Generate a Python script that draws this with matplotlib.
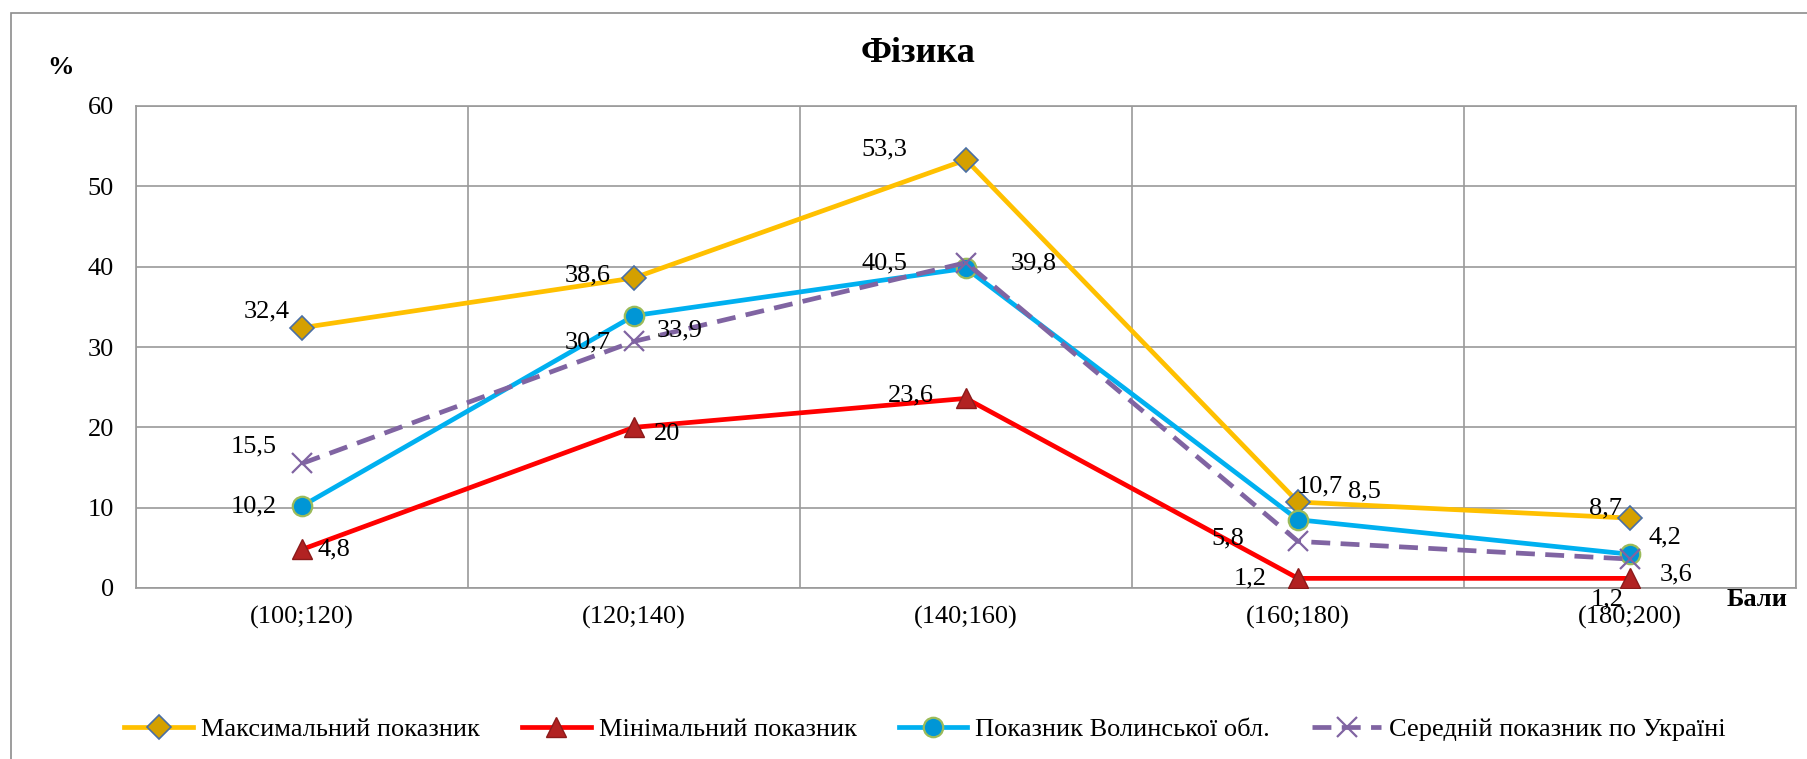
import matplotlib
matplotlib.use("Agg")
import matplotlib.pyplot as plt
from matplotlib.patches import Rectangle

plt.rcParams['font.family'] = ['Liberation Serif', 'DejaVu Serif']

categories = ["(100;120)", "(120;140)", "(140;160)", "(160;180)", "(180;200)"]
max_vals = [32.4, 38.6, 53.3, 10.7, 8.7]
min_vals = [4.8, 20, 23.6, 1.2, 1.2]
volyn_vals = [10.2, 33.9, 39.8, 8.5, 4.2]
ukraine_vals = [15.5, 30.7, 40.5, 5.8, 3.6]
series_names = ["Максимальний показник", "Мінімальний показник",
                "Показник Волинської обл.", "Середній показник по Україні"]
title = "Фізика"

fig = plt.figure(figsize=(18.07, 7.59), dpi=100)
W, H = 1807, 759
ax = fig.add_axes([136 / W, 1 - 588 / H, (1796 - 136) / W, (588 - 106) / H])

# outer chart border
fig.patches.append(Rectangle((11 / W, -0.01), 1.0, 1 - 13 / H + 0.01, transform=fig.transFigure,
                             fill=False, edgecolor='#8c8c8c', linewidth=1.2))

x = list(range(len(categories)))

ax.plot(x, max_vals, color='#FFC000', linewidth=3.4, marker='D', markersize=12,
        markerfacecolor='#D4A000', markeredgecolor='#4A6FA5', markeredgewidth=1.2,
        label=series_names[0], zorder=3)
ax.plot(x, min_vals, color='#FF0000', linewidth=3.4, marker='^', markersize=15,
        markerfacecolor='#B22222', markeredgecolor='#8B1A1A', markeredgewidth=1.0,
        label=series_names[1], zorder=4)
ax.plot(x, volyn_vals, color='#00B0F0', linewidth=3.4, marker='o', markersize=14,
        markerfacecolor='#0096D6', markeredgecolor='#9BBB59', markeredgewidth=1.6,
        label=series_names[2], zorder=5)
ax.plot(x, ukraine_vals, color='#8064A2', linewidth=3.4, linestyle=(0, (4, 2.2)),
        marker='x', markersize=14, markeredgecolor='#8064A2', markeredgewidth=1.6,
        label=series_names[3], zorder=6)

fs = 19
def labels(vals, offs):
    for i, (v, o) in enumerate(zip(vals, offs)):
        ax.annotate(f"{v:g}".replace('.', ','), (i, v), xytext=o, textcoords='offset pixels',
                    ha='center', va='center', fontsize=fs, zorder=10)

labels(max_vals, [(-35, 16), (-46, 2), (-82, 10), (22, 16), (-25, 10)])
labels(min_vals, [(32, 0), (33, -7), (-55, 3), (-48, 0), (-23, -21)])
labels(volyn_vals, [(-48, 0), (46, -15), (68, 5), (66, 28), (35, 17)])
labels(ukraine_vals, [(-48, 17), (-46, -1), (-82, -1), (-70, 3), (46, -15)])

ax.set_xlim(-0.5, 4.5)
ax.set_ylim(0, 60)
ax.set_yticks(range(0, 61, 10))
ax.set_xticks([i + 0.5 for i in range(-1, 5)], minor=False)
ax.set_xticklabels([])
ax.set_xticks(x, minor=True)
ax.set_xticklabels(categories, minor=True, fontsize=fs)
ax.tick_params(axis='x', which='both', length=0, pad=13)
ax.tick_params(axis='y', length=0, pad=16, labelsize=fs)
ax.grid(True, which='major', color='#9a9a9a', linewidth=1.2)
ax.set_axisbelow(True)
for s in ax.spines.values():
    s.set_color('#9a9a9a')
    s.set_linewidth(1.2)

fig.text(918 / W, 1 - 54 / H, title, ha='center', va='center', fontsize=26, fontweight='bold')
fig.text(60 / W, 1 - 67 / H, "%", ha='center', va='center', fontsize=19, fontweight='bold')
fig.text(1757 / W, 1 - 599 / H, "Бали", ha='center', va='center', fontsize=19, fontweight='bold')

fig.legend(loc='center', bbox_to_anchor=(925 / W, 1 - 729 / H), ncol=4, frameon=False,
           fontsize=fs, handlelength=2.6, columnspacing=1.6, handletextpad=0.3)

fig.savefig("out.png", dpi=100)
